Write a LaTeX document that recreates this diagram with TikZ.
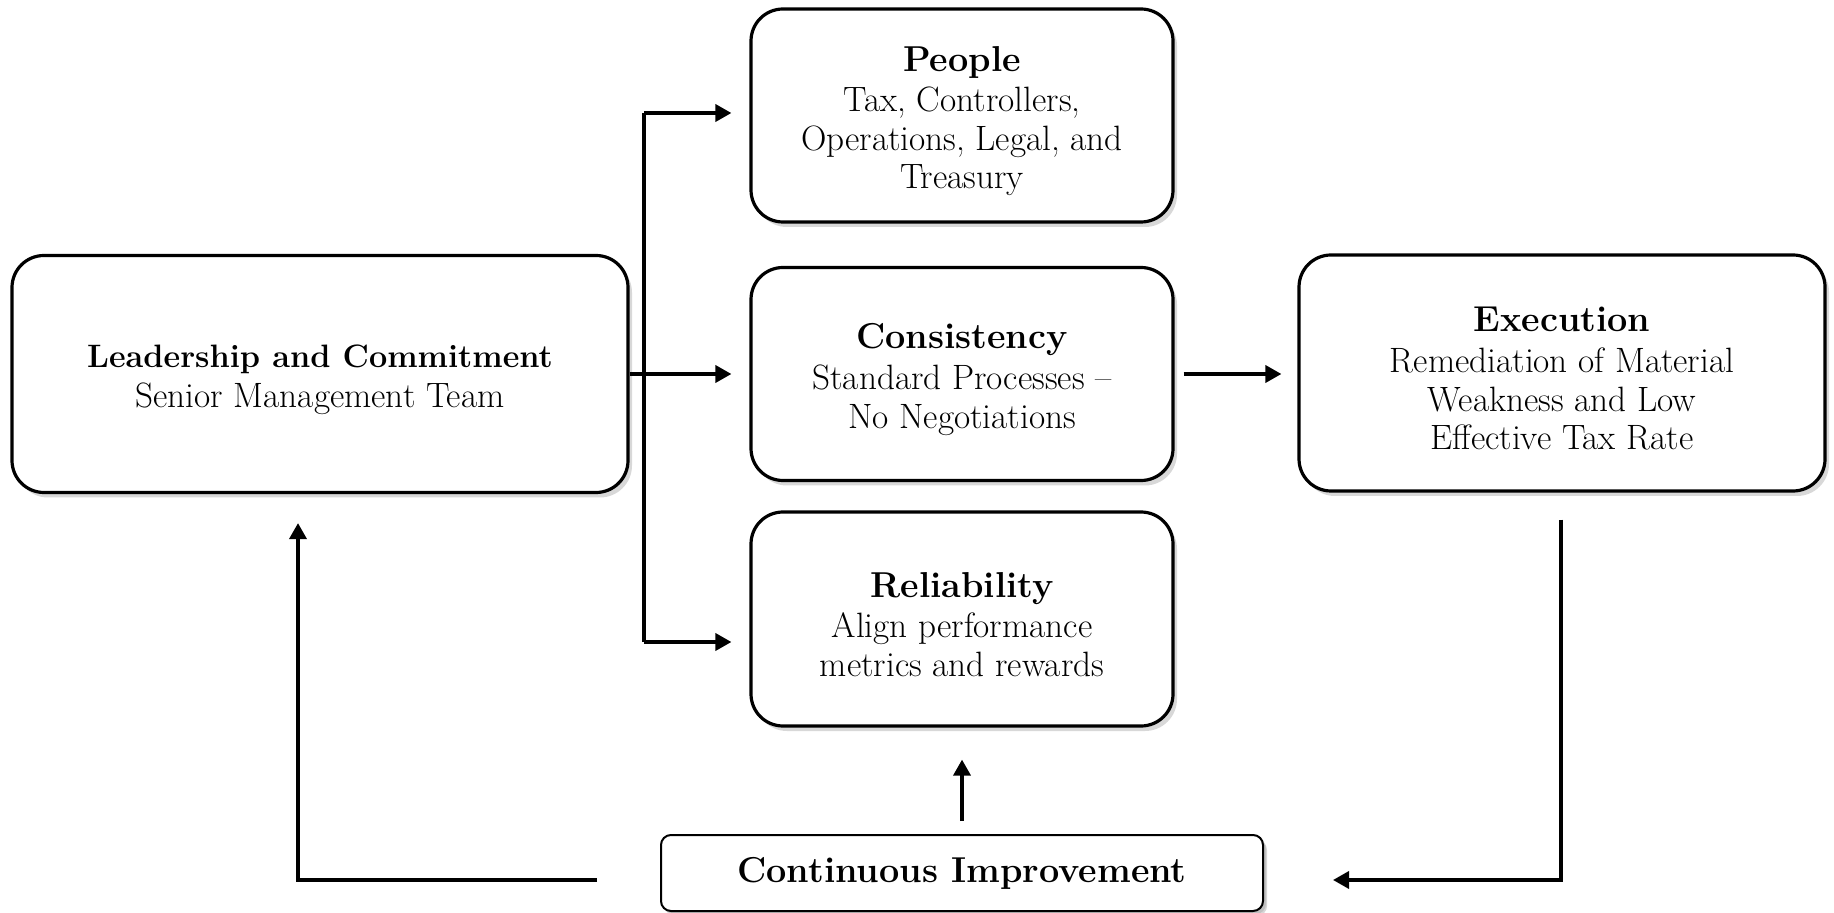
\documentclass[tikz,border=0pt]{standalone}
\usetikzlibrary{arrows.meta,shadows}
\begin{document}
\begin{tikzpicture}[x=0.5pt,y=-0.5pt,
  box/.style={draw=black, line width=1.6pt, rounded corners=16pt, fill=white,
    align=center, inner sep=0pt,
    font=\fontsize{17.6}{19.3}\selectfont,
    drop shadow={shadow xshift=2pt, shadow yshift=-2.5pt, opacity=0.3}},
  smallbox/.style={box, rounded corners=5pt, line width=1pt,
    drop shadow={shadow xshift=1.5pt, shadow yshift=-1.5pt, opacity=0.25}},
  arr/.style={line width=1.8pt, -{Triangle[length=8pt,width=8.5pt]}},
  plain/.style={line width=1.8pt}]
\fill[white] (0,0) rectangle (1834,913);
\useasboundingbox (0,0) rectangle (1834,913);
\newcommand{\ttl}[1]{{\bfseries\fontsize{18}{20}\selectfont\rule{0pt}{18pt}#1}}
\newcommand{\ttls}[1]{{\bfseries\fontsize{16.2}{19}\selectfont\rule{0pt}{17pt}#1}}

\node[box, minimum width=308pt, minimum height=118.5pt] (lead) at (320,374)
  {\ttls{Leadership and Commitment}\\[1pt]Senior Management Team};
\node[box, minimum width=211pt, minimum height=106.5pt] (people) at (962,115.5)
  {\ttl{People}\\[1pt]Tax, Controllers,\\Operations, Legal, and\\Treasury};
\node[box, minimum width=211pt, minimum height=106.5pt] (cons) at (962,374)
  {\ttl{Consistency}\\[1pt]Standard Processes --\\No Negotiations};
\node[box, minimum width=211pt, minimum height=107pt] (rel) at (962,619)
  {\ttl{Reliability}\\[1pt]Align performance\\metrics and rewards};
\node[box, minimum width=263pt, minimum height=118pt] (exec) at (1562,373)
  {\ttl{Execution}\\[1pt]Remediation of Material\\Weakness and Low\\Effective Tax Rate};
\node[smallbox, minimum width=301pt, minimum height=38pt] (cont) at (962,873)
  {{\bfseries\fontsize{18}{20}\selectfont Continuous Improvement}};

% branch from leadership
\coordinate (tt) at (644,113);
\coordinate (tb) at (644,642);
\draw[plain] (tt) -- (tb);
\draw[plain] (lead.east) -- (lead.east -| tt);
\draw[arr, shorten >=9pt] (lead.east -| tt) -- (cons.west);
\draw[arr, shorten >=9pt] (tt) -- (tt -| people.west);
\draw[arr, shorten >=9pt] (tb) -- (tb -| rel.west);

% consistency -> execution
\draw[arr, shorten <=4.5pt, shorten >=8pt] (cons.east) -- (cons.east -| exec.west);

% execution -> bottom
\coordinate (eb) at (1561,880);
\coordinate (ea) at (1333,880);
\draw[arr, shorten <=13.5pt] (exec.south -| eb) -- (eb) -- (ea);

% continuous -> leadership
\coordinate (cl) at (597,880);
\coordinate (cc) at (298,880);
\draw[arr, shorten >=14.5pt] (cl) -- (cc) -- (cc |- lead.south);

% continuous -> reliability
\draw[arr, shorten <=6.5pt, shorten >=16pt] (cont.north) -- (rel.south);
\end{tikzpicture}
\end{document}
